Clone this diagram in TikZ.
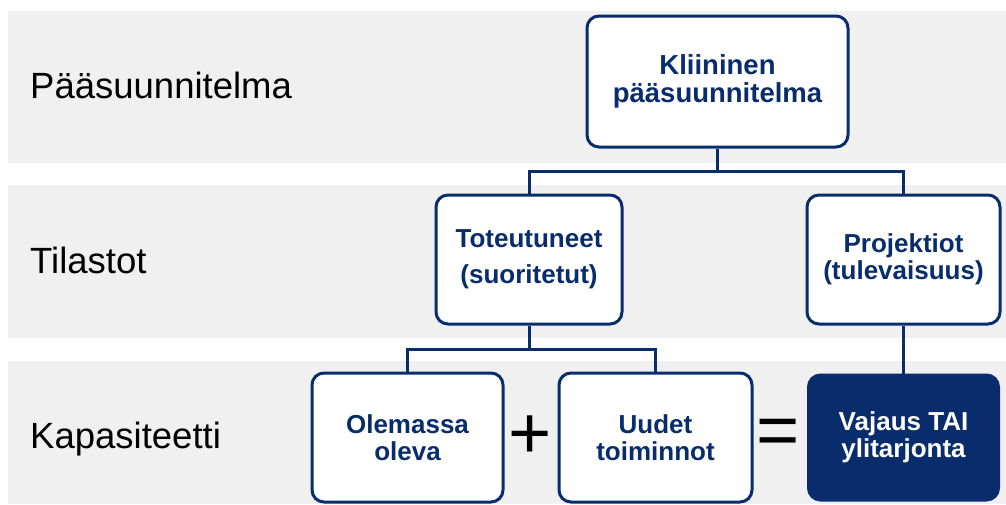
\documentclass[tikz,border=0pt]{standalone}
\usepackage{fontspec}
\setmainfont{Liberation Sans}
\definecolor{navy}{RGB}{8,44,108}
\definecolor{band}{RGB}{240,240,240}
\tikzset{
  bandrect/.style={fill=band, draw=none},
  rowlabel/.style={anchor=base west, inner sep=0pt, text=black, font=\fontsize{36.5}{40}\selectfont},
  box/.style={draw=navy, line width=3pt, rounded corners=12pt, fill=white, text=navy,
    align=center, inner sep=0pt, font=\bfseries\fontsize{26}{27}\selectfont},
  darkbox/.style={box, fill=navy, text=white},
  conn/.style={draw=navy, line width=3pt},
  op/.style={inner sep=0pt, text=black, font=\fontsize{74}{74}\selectfont}
}
\begin{document}
\begin{tikzpicture}[x=1pt,y=-1pt]
\useasboundingbox (0,0) rectangle (1006,504);
% bands
\fill[bandrect] (8,11) rectangle (1006,163);
\fill[bandrect] (8,185) rectangle (1006,338);
\fill[bandrect] (8,361) rectangle (1006,504);
% row labels
\node[rowlabel] (l1) at (30,98) {Pääsuunnitelma};
\node[rowlabel] (l2) at (30,273) {Tilastot};
\node[rowlabel] (l3) at (30,448) {Kapasiteetti};
% bus coordinates
\coordinate (bus1) at (0,171);
\coordinate (bus2) at (0,349);
% boxes
\node[box, minimum width=261pt, minimum height=131pt, font=\bfseries\fontsize{27.5}{27.5}\selectfont] (K) at (717.5,81.5) {Kliininen\\pääsuunnitelma};
\node[box, minimum width=186pt, minimum height=129pt] (T) at (529,259.5) {Toteutuneet\\[9pt](suoritetut)};
\node[box, minimum width=193pt, minimum height=129pt] (P) at (903.5,259.5) {Projektiot\\(tulevaisuus)};
\node[box, minimum width=191pt, minimum height=129pt] (O) at (407.5,437.5) {Olemassa\\oleva};
\node[box, minimum width=193pt, minimum height=129pt] (U) at (655.5,437.5) {Uudet\\toiminnot};
\node[darkbox, minimum width=190pt, minimum height=125pt] (V) at (903.5,437.5) {Vajaus TAI\\ylitarjonta};
% operators
\node[op] (plus) at (530,437) {+};
\node[op] (eq) at (778,437) {=};
% connectors
\draw[conn] (K.south) -- (K.south |- bus1);
\draw[conn] (T.north) |- (bus1 -| P.north) -- (P.north);
\draw[conn] (T.south) -- (T.south |- bus2);
\draw[conn] (O.north) |- (bus2 -| U.north) -- (U.north);
\draw[conn] (P.south) -- (V.north);
\end{tikzpicture}
\end{document}
